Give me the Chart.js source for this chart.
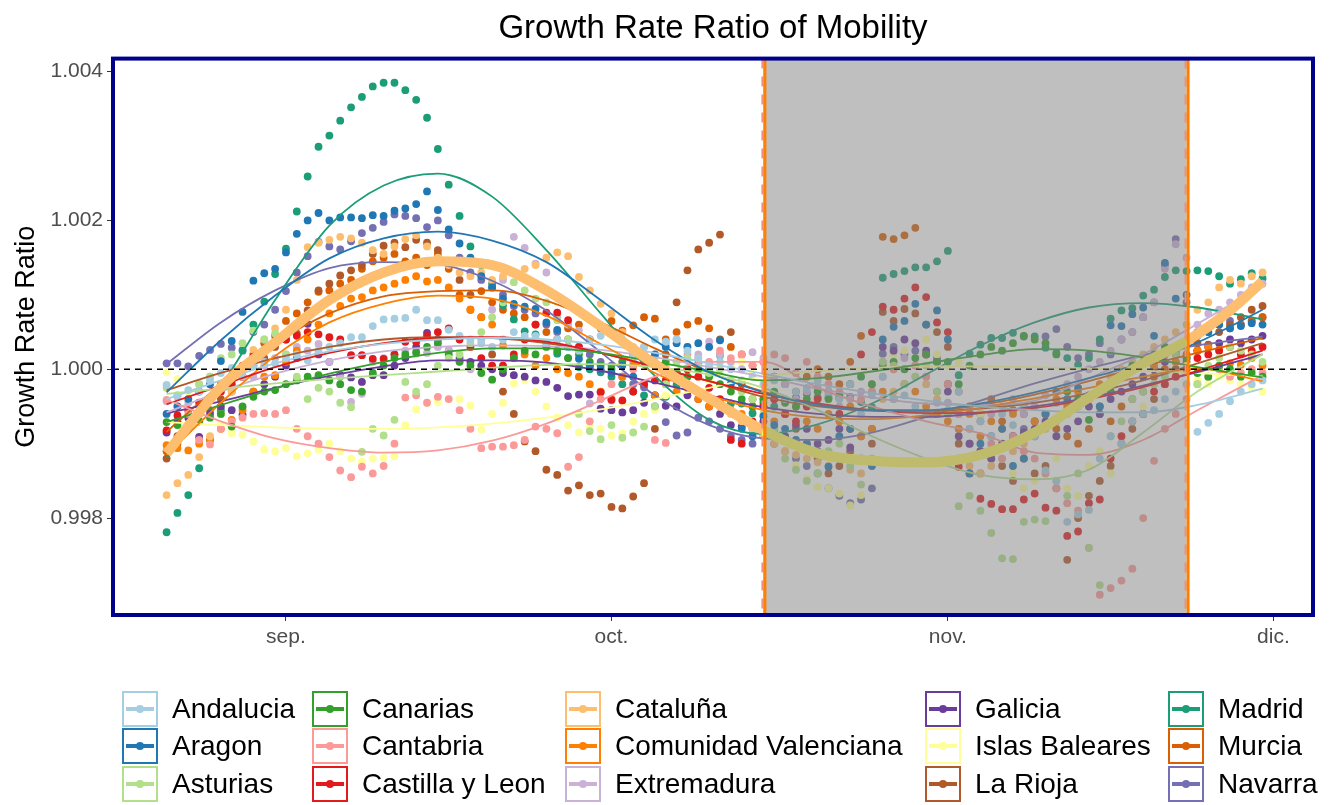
<!DOCTYPE html>
<html>
<head>
<meta charset="utf-8">
<title>Growth Rate Ratio of Mobility</title>
<script src="https://cdn.jsdelivr.net/npm/chart.js@4.4.0/dist/chart.umd.min.js"></script>
<style>
  body { margin: 0; background: #fff; font-family: "Liberation Sans", Arial, sans-serif; }
  #wrap { position: relative; width: 1336px; height: 805px; }
  #chart { position: absolute; left: 0; top: 0; }
  .item { position: absolute; display: flex; align-items: center; height: 36px; white-space: nowrap; }
  .key { box-sizing: border-box; width: 36px; height: 36px; border: 2px solid; position: relative; }
  .key .ln { position: absolute; left: 2px; right: 2px; top: 50%; height: 4px; margin-top: -2px; }
  .key .pt { position: absolute; left: 50%; top: 50%; width: 8px; height: 8px; margin: -4px 0 0 -4px; border-radius: 50%; }
  .lbl { margin-left: 14px; font-size: 28px; color: #000; }
</style>
</head>
<body>
<div id="wrap">
  <canvas id="chart" width="1336" height="805"></canvas>
  <div id="legend"></div>
</div>
<script>
// Growth rate ratio of mobility per region, daily from 21 Aug (day -11) to 30 Nov (day 90); day 0 = 1 Sep

const regions = ['Andalucia', 'Aragon', 'Asturias', 'Canarias', 'Cantabria', 'Castilla y Leon', 'Cataluña',
  'Comunidad Valenciana', 'Extremadura', 'Galicia', 'Islas Baleares', 'La Rioja', 'Madrid', 'Murcia', 'Navarra'];
const colours = ['#A6CEE3', '#1F78B4', '#B2DF8A', '#33A02C', '#FB9A99', '#E31A1C', '#FDBF6F',
  '#FF7F00', '#CAB2D6', '#6A3D9A', '#FFFF99', '#B15928', '#1B9E77', '#D95F02', '#7570B3'];

const firstDay = -11;
const tickDays = [0, 30, 61, 91];
const tickLabels = ['sep.', 'oct.', 'nov.', 'dic.'];
const yTicks = [0.998, 1.000, 1.002, 1.004];
const shadeStart = 44;   // 15 Oct
const shadeEnd = 83;     // 23 Nov

// daily observations
const andaluciaDots = [0.99979,0.99965,0.99972,0.9997,0.99985,0.99995,1.00002,0.9999,1.00005,1.0001,
  1.00008,1.00015,1.0002,1.00012,1.00025,1.0003,1.00035,1.00043,1.00043,1.00058,
  1.00067,1.00068,1.00069,1.0008,1.00066,1.00066,1.00053,1.00045,1.0004,1.00035,
  1.0003,1.0004,1.0005,1.00045,1.00045,1.00035,1.0004,1.0003,1.00025,1.0004,
  1.00045,1.0005,1.0004,1.0002,1.0003,1.0004,1.00037,1.0004,1.00025,1.00015,
  1.00005,1.0001,1,0.99985,0.9999,0.9998,0.99985,0.9996,0.9997,0.99975,
  0.99985,0.9997,0.9996,0.9998,0.9994,0.99965,0.9999,0.9996,0.99965,0.9995,
  0.9994,0.99955,0.99945,0.9997,0.9992,0.9993,0.9991,0.9994,0.99925,0.9995,
  0.9991,0.99864,0.9985,0.99795,0.99805,0.99811,0.9988,0.9991,0.999,0.9993,
  0.9994,0.99945,0.9996,0.9997,0.9998,0.99916,0.99928,0.9994,0.99957,0.9997,
  0.9998,0.99985];
const aragonDots = [0.9994,0.9995,0.9996,0.9997,0.9998,1.00011,1.00038,1.00077,1.00119,1.00129,
  1.00135,1.00157,1.00182,1.002,1.0021,1.002,1.00204,1.00204,1.00203,1.00207,
  1.00206,1.00213,1.00216,1.00222,1.00239,1.00214,1.00188,1.00169,1.0015,1.00125,
  1.0011,1.00095,1.00088,1.00084,1.00081,1.00063,1.00053,1.0003,1.00014,1.00005,
  1,0.99995,1.00005,0.9999,1.0001,1.0002,1.0003,1.00035,1.0003,1.00035,
  1.0003,1.00039,0.9998,0.9992,0.9991,0.99937,0.99925,0.9992,0.99905,0.999,
  0.9989,0.99869,0.9991,0.9992,0.9988,0.9987,1.0004,1.00057,1.00065,1.00088,
  1.0006,1.00079,1.0004,0.9988,0.9986,0.999,0.9991,0.9992,0.9987,0.9988,
  0.9991,0.9994,0.9997,0.9996,0.99975,0.99965,0.9995,1.00059,1.00058,1.00074,
  1.00083,1.00045,1.00143,1.00095,1.001,1.00045,1.0005,1.0006,1.00055,1.00058,
  1.00062,1.0006];
const asturiasDots = [0.99975,0.99965,0.9996,0.9998,0.9999,1.00015,1.0002,1.00035,1.00052,1.0004,
  1.00048,1.0002,0.9999,0.9996,0.99975,0.9997,0.99955,0.99949,0.99889,0.9992,
  0.99911,0.99932,0.99983,0.9997,0.9998,1.00005,1.00015,1.0002,1.00035,1.0005,
  1.0007,1.0009,1.00117,1.00106,1.00095,1.0009,1.00066,1.0004,0.9994,0.99917,
  0.99906,0.99925,0.99908,0.99915,0.99923,0.9995,0.9998,1.0001,1.00015,1.00005,
  0.99995,1,0.99985,0.9997,0.9996,0.9994,0.9992,0.9988,0.99865,0.9985,
  0.9986,0.9989,0.999,0.9987,0.99845,0.9988,1.0001,1.00005,0.9998,0.9999,
  1.00005,0.9997,0.9994,0.99816,0.9983,0.9981,0.9978,0.99746,0.99745,0.99795,
  0.99798,0.99796,0.9985,0.9983,0.9986,0.9976,0.9971,0.9991,0.9993,0.9996,
  0.9997,0.9998,0.9999,1.0002,1.0003,0.9998,1.00005,1.00015,1.0003,1.00025,
  1.0002,1.0001];
const canariasDots = [0.99929,0.99925,0.9992,0.9993,0.99935,0.9994,0.99923,0.9995,0.99963,0.9997,
  0.99972,0.9998,0.99985,0.9999,0.99992,0.99985,0.9998,0.99972,0.9997,0.99995,
  1.00005,1.00015,1.0002,1.00023,1.0003,1.00035,1.0002,1.0001,1.00005,0.99995,
  0.99986,1,1.00015,1.00025,1.0002,1.0003,1.00025,1.00015,1.0002,1.0001,
  1.00005,1,1.0001,1.0002,1.00015,1.00005,1.0001,0.99995,0.9999,1,
  0.9999,0.9998,0.9997,0.9996,0.9995,0.9996,0.9997,0.99955,0.9995,0.9996,
  0.9997,0.9996,0.99965,0.9998,0.9999,0.9998,1.00005,1.0001,1,1.00015,
  1.0002,1.0001,1.0001,0.9998,1.00005,1.0002,1.0003,1.00025,1.00035,1.00045,
  1.0004,1.00035,1.0002,0.9997,0.9996,0.99932,0.9995,0.9997,0.9999,1.00005,
  1.0001,1.0002,1.0003,1.00025,1.00015,0.99995,0.9999,1.00005,1,0.9999,
  0.99995,0.9999];
const cantabriaDots = [0.99959,0.9995,0.9994,0.99905,0.99899,0.9992,0.9993,0.99935,0.9994,0.99941,
  0.9994,0.99945,0.9992,0.9991,0.999,0.99882,0.99864,0.99855,0.99869,0.9986,
  0.9987,0.999,0.99962,0.99965,0.99955,0.99963,0.9996,0.99945,0.9992,0.99894,
  0.99896,0.99896,0.99898,0.99905,0.99923,0.9992,0.99914,0.99869,0.99882,0.9993,
  0.9996,0.9998,1.0001,1,1.0002,0.99905,0.99901,1.0001,1.0002,1.00015,
  1.0001,1.00025,1.00015,1.0002,1.00005,1.0001,1.0002,1.00015,0.99995,1.0001,
  0.9999,0.9998,0.9997,0.9998,0.9996,0.9997,1.0001,1,0.9998,1.00005,
  0.9999,0.9997,0.9998,0.9994,0.9992,0.9993,0.999,0.9988,0.9991,0.9989,
  0.9988,0.9986,0.9984,0.9982,0.9981,0.9976,0.99697,0.99706,0.99716,0.99732,
  0.998,0.99877,0.9992,0.9994,0.9996,0.9998,0.9999,1,0.9999,0.99995,
  1,0.99995];
const castillaDots = [0.99918,0.99938,0.99945,0.99955,0.99959,0.9997,0.9998,0.9999,1.00017,1.00025,
  1.00038,1.0004,1.00045,1.0005,1.00047,1.00043,1.0004,1.00019,1.00019,1.00014,
  1.00014,1.0002,1.00037,1.00037,1.00045,1.0005,1.00055,1.0004,1.0003,1.00015,
  1.00005,1.00005,1.0002,1.0004,1.0006,1.00076,1.00076,1.00066,1.0003,1.00005,
  0.99969,0.99959,0.99958,0.9997,0.9998,0.99985,0.99985,0.99995,1,0.9999,
  0.99975,0.9996,0.99905,0.999,0.9993,0.9995,0.9996,0.9994,0.9993,0.9995,
  0.9996,0.9997,0.9994,0.9992,1.0002,1.0005,1.00084,1.0008,1.00095,1.0011,
  1.00097,1.00063,1.0005,0.99869,0.9986,0.99826,0.99819,0.99812,0.99812,0.99825,
  0.99833,0.99814,0.9981,0.99776,0.99782,0.9982,0.99825,0.9988,0.9991,0.9993,
  0.9994,0.9997,0.9998,0.9999,1,1.00015,1.0002,1.00025,1.0003,1.0002,
  1.00025,1.0003];
const catalunaDots = [0.99831,0.99847,0.99858,0.99882,0.9991,0.9994,0.9997,0.9999,1.00026,1.0004,
  1.00055,1.0008,1.0012,1.00164,1.0017,1.00174,1.00178,1.00176,1.0017,1.0016,
  1.00155,1.00165,1.00175,1.0018,1.00165,1.0015,1.0014,1.0013,1.00125,1.0013,
  1.0012,1.00125,1.0013,1.00135,1.0014,1.0015,1.00157,1.00152,1.00124,1.00106,
  1.00088,1.00075,1.0005,1.0003,1.0002,1.0001,1.00005,0.9999,0.9998,0.9997,
  0.9996,0.9995,0.9994,0.9993,0.9992,0.9991,0.999,0.9989,0.99885,0.9988,
  0.99875,0.9987,0.9988,0.99865,0.9986,0.9988,0.9996,0.9997,0.9998,0.9999,
  0.9998,0.9996,0.9994,0.9988,0.9987,0.9986,0.9987,0.9988,0.9989,0.999,
  0.9991,0.9992,0.9993,0.9994,0.9995,0.9996,0.9997,0.9999,1,1.0001,
  1.0002,1.0003,1.0004,1.0005,1.0006,1.0008,1.0009,1.0011,1.0012,1.00115,
  1.00125,1.0013];
const valencianaDots = [0.99898,0.99894,0.99891,0.999,0.99905,0.9992,0.99932,0.99945,0.9997,0.9999,
  0.99992,1.0001,1.00025,1.0004,1.0006,1.00075,1.00085,1.00095,1.00097,1.00106,
  1.0011,1.00115,1.0012,1.00125,1.00118,1.0012,1.0011,1.00095,1.0008,1.0007,
  1.0006,1.00032,1.00015,1.0002,1.00005,1.00015,1,0.99995,0.9999,0.9998,
  0.9997,0.9996,0.9999,1.00005,0.9998,0.99965,0.9998,0.9997,0.99975,0.9996,
  0.9995,0.99955,0.99945,0.9994,0.9995,0.9996,0.9993,0.9994,0.9995,0.9993,
  0.9992,0.9994,0.9993,0.9995,0.9991,0.9992,0.9997,0.9996,0.9998,0.9997,
  0.9995,0.9994,0.9993,0.9992,0.9994,0.9991,0.9993,0.9992,0.9994,0.9995,
  0.9993,0.9994,0.9996,0.9995,0.9997,0.9996,0.9998,0.9997,0.9999,1,
  1.0001,1.00005,1.0002,1.0001,1,1.00025,1.0003,1.00026,1.00008,1.00006,
  1.00015,1.00005];
const extremaduraDots = [0.99957,0.99963,0.99955,0.9998,0.9999,0.9997,0.9998,0.99949,0.9999,1.00005,
  1.00015,1.0002,1.0003,1.00025,1.00034,1.0001,0.9999,0.99956,0.99967,1.0001,
  1.00015,1.0002,1.00025,1.00021,1.00022,1.0003,1.00025,1.0001,1,1.0004,
  1.0008,1.0012,1.00178,1.00163,1.00142,1.0013,1.0007,1.0006,1.00052,0.99954,
  0.9997,0.99958,0.9999,1.0001,1.0003,1.0002,1.00035,1.0004,1.0003,1.0002,
  1.00037,1.0002,1.0001,1,1.00023,1.00015,0.9999,0.9998,0.9996,0.9997,
  0.99975,0.99965,0.9995,0.9996,0.9997,0.9998,0.9999,1,1.00015,1.00005,
  0.9999,0.9997,0.99955,0.9994,0.99945,0.9993,0.9994,0.9995,0.9996,0.9994,
  0.9995,0.99965,0.99955,0.9998,0.9999,1,1.0001,1.00025,1.0004,1.0005,
  1.0007,1.0009,1.00135,1.00168,1.0015,1.0006,1.00075,1.0008,1.0009,1.001,
  1.0011,1.00115];
const galiciaDots = [0.99915,0.9993,0.99935,0.99909,0.9994,0.9995,0.99945,0.99939,0.9997,0.9998,
  0.9999,1.00005,1.00015,1.00061,1.0002,1.0001,0.99992,0.99989,0.99983,0.99992,
  0.99992,1.00005,1.00015,1.0003,1.00049,1.0004,1.00025,1.00015,1.0001,1.00005,
  1,0.99995,0.99992,0.9999,0.99985,0.99983,0.99975,0.99964,0.99966,0.99966,
  0.99947,0.99945,0.99942,0.99945,0.99955,0.99965,0.99951,0.9995,0.99965,0.9996,
  0.9995,0.9994,0.99925,0.99923,0.9992,0.9993,0.99915,0.9991,0.99925,0.9992,
  0.999,0.99905,0.9992,0.99895,0.9988,0.9992,1.0003,1.00025,1.0004,1.00035,
  1.00025,1.0001,0.9997,0.9991,0.999,0.9989,0.9988,0.999,0.9991,0.99915,
  0.9992,0.9993,0.9991,0.9992,0.9993,0.9995,0.9994,0.9996,0.9997,0.9998,
  0.9999,1,1.0001,1.0002,1.00015,1.00025,1.0003,1.00035,1.0004,1.00035,
  1.0004,1.00045];
const balearesDots = [0.99996,0.99987,0.9997,0.9995,0.99935,0.99925,0.99914,0.99912,0.99903,0.99892,
  0.9989,0.99894,0.99883,0.99887,0.99892,0.999,0.9989,0.9988,0.99876,0.9988,
  0.99881,0.99883,0.99925,0.99946,0.99955,0.99956,0.9996,0.9996,0.99951,0.99919,
  0.9994,0.99955,0.99981,0.99985,0.9997,0.9995,0.99935,0.99925,0.99915,0.99923,
  0.9992,0.99911,0.99914,0.9993,0.9994,0.99945,0.99965,0.9997,0.9998,0.9999,
  0.99985,0.99995,1.00005,1.0001,0.99995,0.9997,0.9991,0.9989,0.99871,0.99853,
  0.99842,0.9984,0.99833,0.99817,0.99831,0.9997,1.0001,1.0002,1.00025,1.00035,
  1.0004,1.0002,1.00005,1.0001,0.9992,0.9994,0.999,0.9988,0.9986,0.9984,
  0.9985,0.9986,0.9988,0.9984,0.9983,0.9987,0.9989,0.9986,0.9991,0.9993,
  0.9995,0.9997,0.9998,0.9999,1.00005,0.99985,0.9998,0.9999,0.99985,0.9998,
  0.99975,0.9997];
const riojaDots = [0.9988,0.9991,0.9992,0.9993,0.99945,0.9996,0.9997,0.9999,1.00005,1.00015,
  1.0003,1.0004,1.00048,1.00079,1.00106,1.00115,1.00126,1.00133,1.0014,1.00155,
  1.00166,1.0017,1.00164,1.00174,1.0017,1.0016,1.0014,1.0012,1.001,1.0007,
  1.0002,0.9997,0.9994,0.99903,0.9989,0.99865,0.99858,0.99837,0.99844,0.99831,
  0.99833,0.99815,0.99813,0.99829,0.99847,0.9992,1.0002,1.0009,1.00133,1.00161,
  1.0017,1.00181,1.0005,0.9998,0.9996,0.9995,0.9996,0.9994,0.9992,0.999,
  0.9988,0.9986,0.9987,0.9989,0.9991,0.999,1.00077,1.00065,1.00081,1.00075,
  1.0006,1.0005,1.0003,0.999,0.9988,0.9986,0.9989,0.9987,0.9985,0.9988,
  0.9986,0.9987,0.9984,0.99744,0.998,0.9983,0.9985,0.9987,0.999,0.9992,
  0.9994,0.9996,0.9998,1,1.0001,1.00035,1.00033,1.0005,1.0006,1.0007,
  1.0008,1.00085];
const madridDots = [0.99781,0.99807,0.99831,0.99867,0.99905,0.99945,0.99985,1.00025,1.0006,1.00091,
  1.00128,1.00162,1.00212,1.00259,1.00299,1.00314,1.00334,1.00352,1.00366,1.0038,
  1.00385,1.00385,1.00375,1.00362,1.00338,1.00296,1.00248,1.00206,1.00165,1.0014,
  1.00115,1.00086,1.00067,1.00051,1.00047,1.00031,1.00021,1.00015,1.00003,1,
  0.99996,0.9999,0.9998,0.9997,0.99965,0.99965,0.99963,0.99979,1.00001,1.00008,
  1.00001,1.00019,0.99954,0.99954,0.99941,0.99955,0.9995,0.99958,0.99962,0.99967,
  0.99962,0.99962,0.99961,0.99963,0.99956,0.99949,1.00123,1.00128,1.00132,1.00137,
  1.00137,1.00145,1.00159,0.99992,1.00021,1.00033,1.00042,1.00042,1.00049,1.00044,
  1.00044,1.00029,1.00022,1.00015,1.00006,1.00015,1.0004,1.00068,1.00079,1.00082,
  1.00099,1.00107,1.00124,1.00133,1.00132,1.00133,1.00132,1.00125,1.00115,1.00121,
  1.00129,1.00122];
const murciaDots = [0.9989,0.999,0.9992,0.9994,0.9996,0.9998,0.9999,1.00005,1.0002,1.00035,
  1.00045,1.00065,1.00075,1.0009,1.00104,1.00106,1.00115,1.0012,1.00135,1.00145,
  1.0015,1.00155,1.00145,1.0015,1.0014,1.00155,1.00135,1.001,1.0008,1.00105,
  1.0009,1.0008,1.00075,1.0007,1.0006,1.0005,1.0004,1.00055,1.0006,1.0004,
  1.00055,1.00065,1.00052,1.00059,1.0007,1.00068,1.0004,1.0005,1.0006,1.00065,
  1.00055,1.0004,1.0003,1.0002,1.00005,1.0001,0.9999,0.9998,0.9997,0.9999,
  1,0.9999,0.9998,1.0001,1.00045,0.9997,1.00178,1.00175,1.0018,1.0019,
  1.0002,1.0001,0.9998,0.9997,0.9995,0.9994,0.9996,0.9993,0.99945,0.9994,
  0.9993,0.9994,0.9992,0.9991,0.999,0.9992,0.9994,0.9993,0.9995,0.9996,
  0.9997,0.9999,1,1.0001,1.0002,1.00025,1.0005,1.00065,1.00055,1.0006,
  1.00065,1.0007];
const navarraDots = [1.00008,1.00008,1.00004,1.00018,1.00026,1.00034,1.00029,1.00026,1.0005,1.0006,
  1.0008,1.00105,1.0013,1.00152,1.00171,1.00165,1.00161,1.00172,1.00183,1.0019,
  1.00198,1.00208,1.00206,1.00203,1.00191,1.002,1.0018,1.0015,1.0013,1.0012,
  1.0011,1.001,1.00085,1.0008,1.00075,1.0006,1.0005,1.0004,1.0003,1.0002,
  1.0001,1.00005,0.9999,0.9998,0.99976,0.9995,0.99929,0.99911,0.99915,0.99935,
  0.9993,0.9992,0.9991,0.99905,0.999,0.9991,0.999,0.9989,0.9988,0.9987,
  0.9986,0.9984,0.9983,0.9982,0.99825,0.9984,1.00021,1.0003,1.0002,1.00025,
  1.0002,1.00015,0.9998,0.9992,0.999,0.9989,0.9988,0.99895,0.9991,0.9992,
  0.9993,1.00044,1.00054,1.0003,1.00015,1.0002,1.00035,1.0002,1.0004,1.0005,
  1.0007,1.0009,1.0014,1.00175,1.0009,1.0005,1.00055,1.0006,1.00065,1.0006,
  1.00065,1.0007];

// smoothed trends, read at these days
const fitDays = [-11, -6, -1, 4, 9, 14, 19, 24, 29, 34, 39, 44, 49, 54, 59, 64, 69, 74, 79, 84, 90];
const andaluciaFit = [0.9996,0.99985,1.00008,1.00024,1.00034,1.0004,1.00042,1.0004,1.00033,1.00022,1.00008,0.99994,0.9998,0.99968,0.99958,0.9995,0.99945,0.99942,0.99942,0.99952,0.99974];
const aragonFit = [0.99969,1.00039,1.00099,1.00149,1.00176,1.00185,1.00173,1.00144,1.00093,1.00039,0.99996,0.99969,0.99952,0.99945,0.99945,0.99954,0.99969,0.99988,1.00009,1.00036,1.0008];
const asturiasFit = [0.99967,0.99974,0.99981,0.99987,0.99992,0.99997,1.00002,1.00006,1.00007,1.00003,0.99993,0.99975,0.99945,0.9991,0.9988,0.99858,0.99852,0.99865,0.99915,0.9997,1.0002];
const canariasFit = [0.99929,0.99952,0.99974,0.99994,1.0001,1.00022,1.00028,1.00028,1.00022,1.0001,0.99997,0.99985,0.99988,0.99997,1.00008,1.00019,1.00027,1.00025,1.00016,1.00003,0.99989];
const cantabriaFit = [0.99959,0.9993,0.99907,0.99894,0.99888,0.99891,0.99904,0.99927,0.99958,0.9999,1.0001,1.0001,0.99975,0.9995,0.9993,0.99914,0.99888,0.99885,0.99905,0.99945,0.99992];
const castillaFit = [0.99953,0.99978,1.00003,1.00022,1.00035,1.00042,1.00043,1.00037,1.00022,1.00003,0.99984,0.99967,0.99954,0.99945,0.99941,0.99942,0.99948,0.9996,0.99976,0.99998,1.00025];
const valencianaFit = [0.99885,0.99955,1.00018,1.00063,1.00088,1.00099,1.00095,1.00072,1.00034,0.99995,0.99965,0.99945,0.99935,0.99933,0.99938,0.99948,0.99961,0.99975,0.9999,1.00001,0.99984];
const extremaduraFit = [0.99942,0.9997,0.99994,1.00012,1.00024,1.0003,1.00032,1.00031,1.00026,1.00016,1.00003,0.9999,0.99974,0.99962,0.99954,0.99952,0.99958,0.99988,1.0002,1.00061,1.00112];
const galiciaFit = [0.99941,0.99957,0.99975,0.99991,1.00004,1.00012,1.00012,1.00009,0.99998,0.99982,0.99965,0.99949,0.9994,0.99936,0.99936,0.99941,0.9995,0.99962,0.99978,0.99996,1.0002];
const balearesFit = [0.99929,0.99925,0.99922,0.9992,0.9992,0.99922,0.99927,0.99935,0.99946,0.9996,0.99975,0.9999,0.99998,1.00002,1.00004,1.00004,1.00003,1.00001,0.99998,0.99995,0.9999];
const riojaFit = [0.99972,0.99995,1.00015,1.0003,1.0004,1.00043,1.00042,1.00035,1.00022,1.00003,0.99984,0.99963,0.9995,0.99945,0.99944,0.99947,0.99955,0.99968,0.99985,1.00008,1.00035];
const madridFit = [0.99881,0.99977,1.00093,1.00193,1.00247,1.00263,1.00232,1.0016,1.00075,0.99991,0.99932,0.99913,0.99926,0.99954,0.99993,1.00032,1.00063,1.00083,1.00089,1.00083,1.00067];
const murciaFit = [0.99916,0.9998,1.00035,1.00075,1.00098,1.00105,1.00106,1.00092,1.00063,1.00028,0.99996,0.9997,0.99952,0.99944,0.99944,0.99952,0.99966,0.99984,1.00004,1.00022,1.00042];
const navarraFit = [1.00007,1.00063,1.00106,1.00136,1.00144,1.00141,1.00119,1.00079,1.00023,0.99965,0.99925,0.99907,0.99905,0.99915,0.99936,0.99958,0.99981,1.00001,1.00019,1.00032,1.00044];

// highlighted (thick) trend
const boldDays = [-11, -6, -1, 4, 9, 14, 19, 24, 29, 34, 39, 44, 49, 54, 59, 64, 69, 74, 79, 83, 87, 90];
const boldFit = [0.99887,0.99976,1.00036,1.00093,1.0013,1.00145,1.0014,1.00106,1.00058,1.00007,0.99961,0.99918,0.99887,0.99877,0.99875,0.99885,0.99915,0.99962,1.00008,1.00038,1.00079,1.00118];

const dots = [andaluciaDots, aragonDots, asturiasDots, canariasDots, cantabriaDots, castillaDots, catalunaDots,
  valencianaDots, extremaduraDots, galiciaDots, balearesDots, riojaDots, madridDots, murciaDots, navarraDots];
const fits = [andaluciaFit, aragonFit, asturiasFit, canariasFit, cantabriaFit, castillaFit, null,
  valencianaFit, extremaduraFit, galiciaFit, balearesFit, riojaFit, madridFit, murciaFit, navarraFit];

Chart.defaults.font.family = '"Liberation Sans", Arial, sans-serif';

const datasets = [];

datasets.push({
  data: boldDays.map((d, i) => ({ x: d, y: boldFit[i] })),
  borderColor: '#FDBF6F',
  borderWidth: 10,
  pointRadius: 0,
  cubicInterpolationMode: 'monotone',
  segment: {
    borderColor: c => (c.p0.parsed.x >= shadeStart && c.p1.parsed.x <= shadeEnd) ? '#FFF75A' : '#FDBF6F',
  },
});

fits.forEach((f, k) => {
  if (!f) return;
  datasets.push({
    data: fitDays.map((d, i) => ({ x: d, y: f[i] })),
    borderColor: colours[k],
    borderWidth: 1.8,
    pointRadius: 0,
    cubicInterpolationMode: 'monotone',
  });
});

dots.forEach((vals, k) => {
  datasets.push({
    data: vals.map((v, i) => ({ x: firstDay + i, y: v })),
    showLine: false,
    pointRadius: 3.9,
    pointBorderWidth: 0,
    pointBackgroundColor: colours[k],
    borderColor: colours[k],
  });
});

const overlay = {
  id: 'overlay',
  afterDatasetsDraw(chart) {
    const { ctx, chartArea: a, scales: { x, y } } = chart;
    ctx.save();
    ctx.beginPath();
    ctx.rect(a.left, a.top, a.right - a.left, a.bottom - a.top);
    ctx.clip();

    const y1 = y.getPixelForValue(1);
    ctx.setLineDash([6, 5]);
    ctx.strokeStyle = '#000';
    ctx.lineWidth = 1.6;
    ctx.beginPath();
    ctx.moveTo(a.left, y1);
    ctx.lineTo(a.right, y1);
    ctx.stroke();

    const x0 = x.getPixelForValue(shadeStart), x1 = x.getPixelForValue(shadeEnd);
    ctx.setLineDash([]);
    ctx.fillStyle = 'rgba(127,127,127,0.5)';
    ctx.fillRect(x0, a.top, x1 - x0, a.bottom - a.top);

    [x0, x1].forEach(px => {
      ctx.setLineDash([10, 8]);
      ctx.strokeStyle = '#F0907A';
      ctx.lineWidth = 2;
      ctx.beginPath();
      ctx.moveTo(px - 1, a.top);
      ctx.lineTo(px - 1, a.bottom);
      ctx.stroke();
      ctx.setLineDash([]);
      ctx.strokeStyle = '#FF7F00';
      ctx.lineWidth = 3;
      ctx.beginPath();
      ctx.moveTo(px + 1.5, a.top);
      ctx.lineTo(px + 1.5, a.bottom);
      ctx.stroke();
    });
    ctx.restore();

    ctx.save();
    ctx.strokeStyle = '#00008B';
    ctx.lineWidth = 4;
    ctx.strokeRect(a.left, a.top, a.right - a.left, a.bottom - a.top);
    ctx.restore();
  },
};

new Chart(document.getElementById('chart'), {
  type: 'line',
  data: { datasets },
  options: {
    responsive: false,
    animation: false,
    events: [],
    layout: { padding: { left: 0, right: 23, top: 0, bottom: 148 } },
    plugins: {
      legend: { display: false },
      tooltip: { enabled: false },
      title: {
        display: true,
        fullSize: false,
        text: 'Growth Rate Ratio of Mobility',
        color: '#000',
        font: { size: 33, weight: 'normal' },
        padding: { top: 9, bottom: 10 },
      },
    },
    scales: {
      x: {
        type: 'linear',
        min: -15.94,
        max: 94.65,
        afterBuildTicks: s => { s.ticks = tickDays.map(v => ({ value: v })); },
        afterFit: s => { s.height = 42; },
        ticks: {
          callback: (v, i) => tickLabels[i],
          color: '#4D4D4D',
          font: { size: 21 },
          padding: 4,
          maxRotation: 0,
          autoSkip: false,
        },
        grid: { drawOnChartArea: false, tickLength: 6, color: '#333333' },
        border: { display: false },
      },
      y: {
        min: 0.996698,
        max: 1.0041745,
        afterBuildTicks: s => { s.ticks = yTicks.map(v => ({ value: v })); },
        afterFit: s => { s.width = 113; },
        ticks: {
          callback: v => v.toFixed(3),
          color: '#4D4D4D',
          font: { size: 21 },
          padding: 4,
        },
        grid: { drawOnChartArea: false, tickLength: 6, color: '#333333' },
        border: { display: false },
        title: {
          display: true,
          text: 'Growth Rate Ratio',
          color: '#000',
          font: { size: 27 },
          padding: { top: 10, bottom: 0 },
        },
      },
    },
  },
  plugins: [overlay],
});

// legend, filled column by column
const legendCols = [122, 312, 565, 925, 1168];
const legendRows = [691, 728, 766];
const legend = document.getElementById('legend');
regions.forEach((name, k) => {
  const col = Math.floor(k / 3), row = k % 3;
  const item = document.createElement('div');
  item.className = 'item';
  item.style.left = legendCols[col] + 'px';
  item.style.top = legendRows[row] + 'px';
  item.innerHTML = '<div class="key" style="border-color:' + colours[k] + '">' +
    '<div class="ln" style="background:' + colours[k] + '"></div>' +
    '<div class="pt" style="background:' + colours[k] + '"></div></div>' +
    '<span class="lbl">' + name + '</span>';
  legend.appendChild(item);
});
</script>
</body>
</html>
